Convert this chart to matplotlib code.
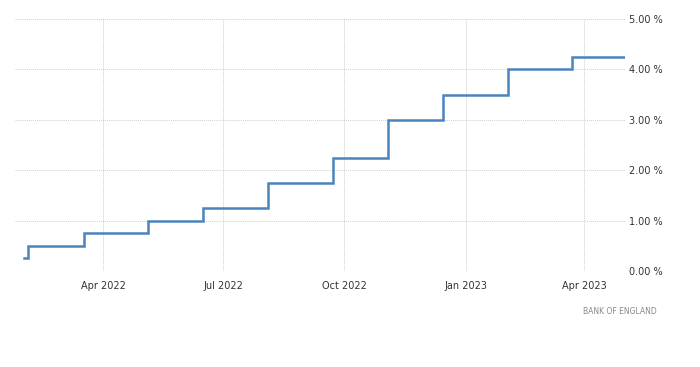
import matplotlib
matplotlib.use("Agg")
import matplotlib.pyplot as plt
import matplotlib.dates as mdates
import pandas as pd

dates = ["2022-01-31", "2022-02-03", "2022-03-17", "2022-05-05", "2022-06-16",
         "2022-08-04", "2022-09-22", "2022-11-03", "2022-12-15", "2023-02-02",
         "2023-03-23", "2023-05-02"]
rates = [0.25, 0.50, 0.75, 1.00, 1.25, 1.75, 2.25, 3.00, 3.50, 4.00, 4.25, 4.25]
yticks = [0, 1, 2, 3, 4, 5]
xtick_dates = ["2022-04-01", "2022-07-01", "2022-10-01", "2023-01-01", "2023-04-01"]
xtick_labels = ["Apr 2022", "Jul 2022", "Oct 2022", "Jan 2023", "Apr 2023"]
source = "BANK OF ENGLAND"

d = pd.to_datetime(dates)

fig = plt.figure(figsize=(7, 3.67), dpi=100)
ax = fig.add_axes([15/700, 1-271/367, (625-15)/700, (271-19)/367])
ax.step(d, rates, where="post", color="#4a84bd", lw=1.8, solid_joinstyle="miter")
ax.set_xlim(pd.Timestamp("2022-01-24"), pd.Timestamp("2023-05-02"))
ax.set_ylim(0, 5)
ax.set_yticks(yticks)
ax.set_yticklabels([f"{v:.2f} %" for v in yticks])
ax.yaxis.tick_right()
ax.set_xticks(pd.to_datetime(xtick_dates))
ax.set_xticklabels(xtick_labels)
ax.tick_params(axis="both", length=0, labelsize=7, labelcolor="#333333")
ax.tick_params(axis="y", pad=3)
ax.tick_params(axis="x", pad=7)
for s in ax.spines.values():
    s.set_visible(False)
ax.grid(True, color="#d0d0d0", linestyle=(0, (1, 1)), linewidth=0.7)
ax.set_axisbelow(True)
fig.text(657/700, 1-312/367, source, ha="right", va="center", fontsize=5.5, color="#888888")
fig.savefig("out.png", dpi=100)
